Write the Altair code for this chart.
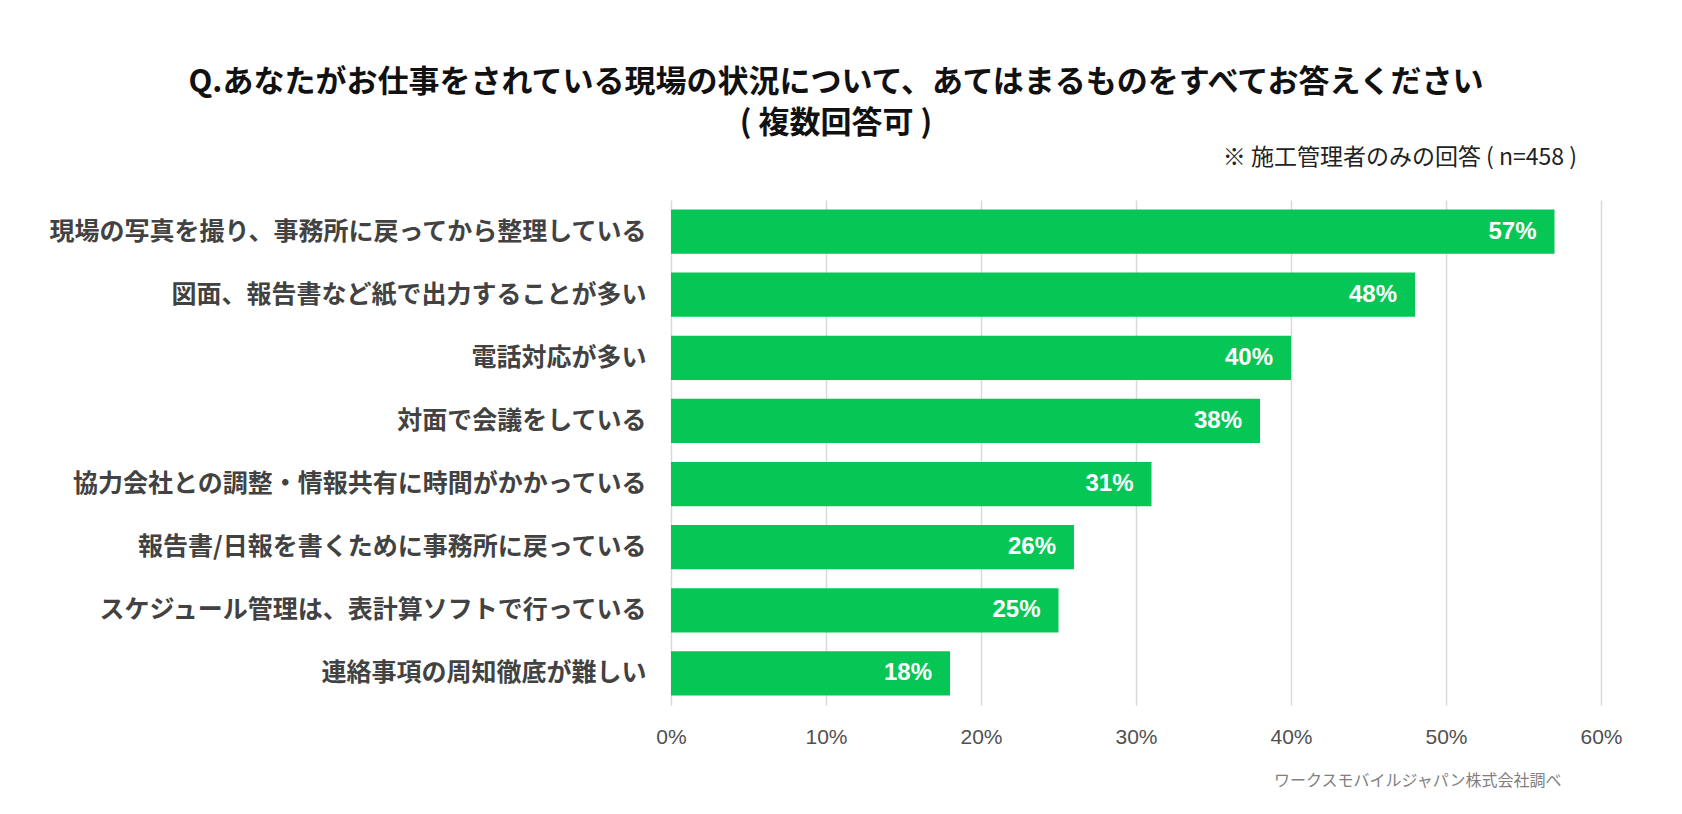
import altair as alt
import pandas as pd

categories = [
    "現場の写真を撮り、事務所に戻ってから整理している",
    "図面、報告書など紙で出力することが多い",
    "電話対応が多い",
    "対面で会議をしている",
    "協力会社との調整・情報共有に時間がかかっている",
    "報告書/日報を書くために事務所に戻っている",
    "スケジュール管理は、表計算ソフトで行っている",
    "連絡事項の周知徹底が難しい",
]
values = [57, 48, 40, 38, 31, 26, 25, 18]
tick_values = [0, 10, 20, 30, 40, 50, 60]

title_lines = [
    "Q.あなたがお仕事をされている現場の状況について、あてはまるものをすべてお答えください",
    "( 複数回答可 )",
]
note_text = ["※ 施工管理者のみの回答 ( n=458 )"]
source_text = "ワークスモバイルジャパン株式会社調べ"

JP = "Noto Sans CJK JP"

df = pd.DataFrame({"item": categories, "value": values})
df["label"] = df["value"].astype(str) + "%"

y_enc = alt.Y(
    "item:N",
    sort=None,
    scale=alt.Scale(paddingInner=0.3, paddingOuter=0.15),
    axis=alt.Axis(
        title=None,
        labelFont=JP,
        labelFontSize=25,
        labelFontWeight="bold",
        labelColor="#424242",
        labelPadding=25,
        labelLimit=700,
        ticks=False,
        domain=False,
        grid=False,
    ),
)
x_enc = alt.X(
    "value:Q",
    scale=alt.Scale(domain=[0, 60]),
    axis=alt.Axis(
        values=tick_values,
        labelExpr="datum.value + '%'",
        labelFont="Liberation Sans",
        labelFontSize=21,
        labelColor="#505050",
        labelPadding=21,
        labelFlush=False,
        grid=True,
        gridColor="#d9d9d9",
        gridWidth=1.5,
        domain=False,
        ticks=False,
        title=source_text,
        titleFont=JP,
        titleFontSize=16,
        titleFontWeight="normal",
        titleColor="#808080",
        titleAlign="right",
        titleAnchor="end",
        titleBaseline="middle",
        titleX=890,
        titleY=75,
    ),
)

base = alt.Chart(df)
bars = base.mark_bar(color="#06C755").encode(y=y_enc, x=x_enc)
labels = base.mark_text(
    align="right",
    baseline="middle",
    dx=-18,
    color="white",
    font="Liberation Sans",
    fontWeight="bold",
    fontSize=24,
).encode(y=alt.Y("item:N", sort=None), x="value:Q", text="label:N")

note = alt.Chart(pd.DataFrame({"t": note_text})).mark_text(
    align="right",
    baseline="middle",
    font=JP,
    fontSize=23,
    color="#222222",
).encode(text="t:N", x=alt.value(906), y=alt.value(-42))

chart = (
    alt.layer(bars, labels, note)
    .properties(
        width=930,
        height=505,
        view=alt.ViewBackground(stroke="transparent", strokeOpacity=0, strokeWidth=0),
        title=alt.TitleParams(
            text=title_lines,
            font=JP,
            fontSize=31,
            fontWeight="bold",
            color="#111111",
            anchor="middle",
            frame="group",
            dx=-300,
            offset=7,
            lineHeight=41,
        ),
        autosize=alt.AutoSizeParams(type="none"),
        padding={"left": 671, "top": 200, "right": 81, "bottom": 109},
    )
    .configure_view(stroke="transparent", strokeOpacity=0, strokeWidth=0)
    .configure(background="white")
)

chart.save("out.html", embed_options={"renderer": "svg", "actions": False})
